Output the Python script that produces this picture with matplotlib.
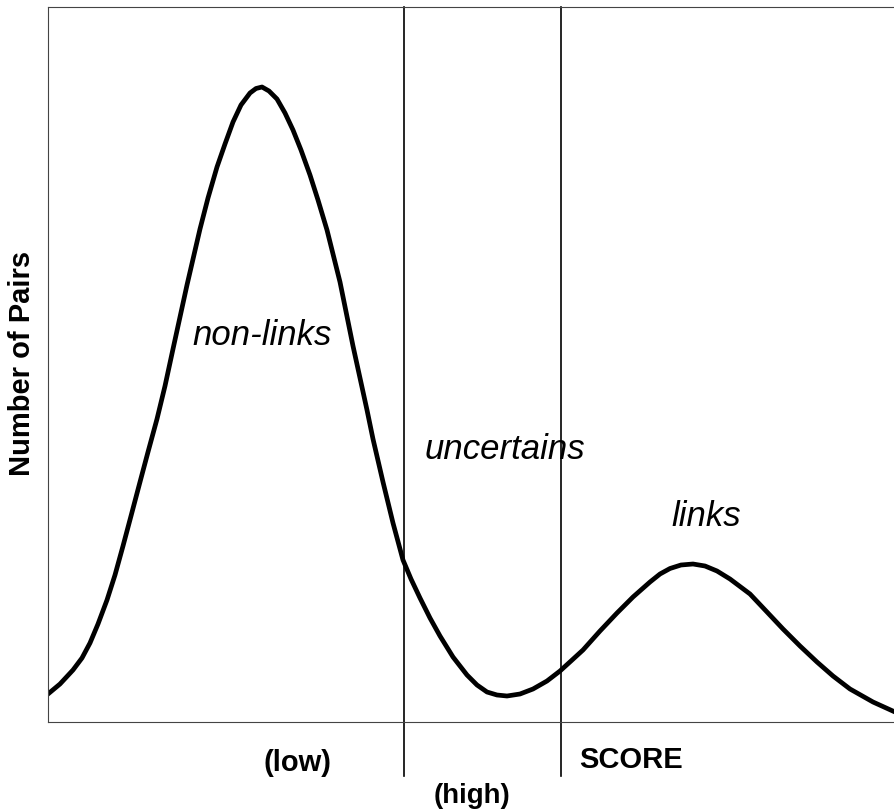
import matplotlib.pyplot as plt

plt.rcParams['font.family'] = ['Liberation Sans', 'DejaVu Sans']

# curve (arbitrary units: score 0-847, pairs 0-715)
score = [0, 12, 25, 34, 42, 50, 59, 67, 75, 83,
         92, 100, 109, 117, 125, 132, 139, 152, 160, 169,
         177, 185, 193, 202, 208, 214, 221, 229, 237, 245,
         253, 262, 270, 279, 292, 305, 319, 325, 335, 345,
         355, 363, 372, 382, 392, 405, 419, 429, 439, 449,
         459, 472, 485, 499, 512, 523, 535, 552, 569, 585,
         602, 612, 622, 633, 645, 657, 669, 682, 702, 719,
         735, 752, 769, 785, 802, 825, 847]
pairs = [28, 38, 52, 64, 79, 98, 122, 147, 176, 206,
         240, 270, 303, 336, 373, 405, 437, 493, 524, 555,
         578, 600, 617, 629, 633.5, 635, 631, 623, 609, 592,
         572, 547, 522, 492, 440, 376, 312, 283, 240, 199,
         162, 143, 124, 104, 86, 65, 47, 37, 30, 27,
         26, 28, 33, 41, 51, 61, 72, 91, 109, 125,
         140, 148, 153.5, 157, 158, 156, 151, 143, 128, 110,
         93, 76, 60, 46, 33, 20, 10]

thresholds = [356, 513]

regions = ["non-links", "uncertains", "links"]
region_x = [214, 457, 658]
region_y = [387, 273, 206]

fig = plt.figure(figsize=(8.95, 8.12), dpi=100)
ax = fig.add_axes([48/895, 89/812, 847/895, 715/812])

ax.plot(score, pairs, color='black', lw=3.4, solid_joinstyle='round')

for t in thresholds:
    ax.axvline(t, ymin=-0.0755, ymax=1, color='black', lw=1.2, clip_on=False)

for name, x, y in zip(regions, region_x, region_y):
    ax.text(x, y, name, fontsize=25, style='italic', ha='center', va='center')

ax.text(250, -40, "(low)", fontsize=21, fontweight='bold', ha='center', va='center', clip_on=False)
ax.text(424, -73, "(high)", fontsize=20, fontweight='bold', ha='center', va='center', clip_on=False)
ax.text(583, -37, "SCORE", fontsize=21, fontweight='bold', ha='center', va='center', clip_on=False)

fig.text(22/895, 1 - 363/812, "Number of Pairs", fontsize=21, fontweight='bold',
         rotation=90, ha='center', va='center')

ax.set_xlim(0, 847)
ax.set_ylim(0, 715)
ax.set_xticks([])
ax.set_yticks([])
ax.spines['right'].set_visible(False)
for s in ['left', 'bottom', 'top']:
    ax.spines[s].set_color('#444444')
    ax.spines[s].set_linewidth(0.8)

fig.savefig('out.png', dpi=100)
